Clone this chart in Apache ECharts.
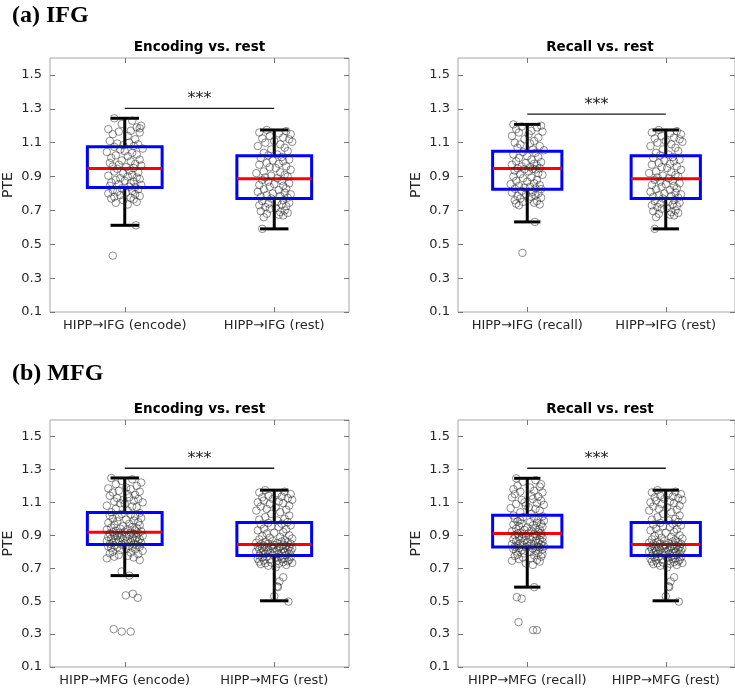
<!DOCTYPE html>
<html><head><meta charset="utf-8">
<script src="https://cdn.jsdelivr.net/npm/echarts@6/dist/echarts.min.js"></script>
<style>html,body{margin:0;padding:0;background:#fff}#c{width:735px;height:692px}</style>
</head><body><div id="c"></div>
<script>
// ---- data ----
const yMin = 0.1, yMax = 1.6, yStep = 0.2;
const sectionTitles = ['(a) IFG', '(b) MFG'];
const panelTitles = ['Encoding vs. rest', 'Recall vs. rest', 'Encoding vs. rest', 'Recall vs. rest'];
const catsIfgEnc = ['HIPP\u2192IFG (encode)', 'HIPP\u2192IFG (rest)'];
const catsIfgRec = ['HIPP\u2192IFG (recall)', 'HIPP\u2192IFG (rest)'];
const catsMfgEnc = ['HIPP\u2192MFG (encode)', 'HIPP\u2192MFG (rest)'];
const catsMfgRec = ['HIPP\u2192MFG (recall)', 'HIPP\u2192MFG (rest)'];
// box stats: [lower whisker, Q1, median, Q3, upper whisker]
const statIfgEncode = [0.612, 0.835, 0.948, 1.076, 1.244];
const statIfgRecall = [0.632, 0.825, 0.948, 1.05, 1.208];
const statIfgRest   = [0.591, 0.77, 0.887, 1.023, 1.175];
const statMfgEncode = [0.655, 0.844, 0.919, 1.038, 1.248];
const statMfgRecall = [0.585, 0.828, 0.911, 1.021, 1.246];
const statMfgRest   = [0.502, 0.777, 0.844, 0.977, 1.174];
// significance bar heights
const sigLevels = [1.303, 1.268, 1.307, 1.307];
const sigLabel = '***';
// individual points: [horizontal jitter (category units), PTE]
const ptsIfgEncode = [
[-0.07,1.244],[0.05,1.23],[-0.02,1.21],[0.11,1.2],[0.08,1.19],[0.1,1.185],[-0.11,1.18],[0.04,1.17],[-0.04,1.165],[0.1,1.16],[-0.08,1.15],[0.02,1.14],[0.07,1.12],[-0.1,1.11],[0.03,1.1],[-0.05,1.095],[0.09,1.09],[-0.01,1.085],[0.06,1.08],[-0.07,1.075],
[0.12,1.065],[-0.03,1.06],[0.0,1.05],[-0.12,1.045],[0.05,1.04],[0.08,1.03],[-0.06,1.025],[0.02,1.02],[-0.09,1.01],[0.1,1.0],[-0.02,0.995],[0.04,0.99],[-0.1,0.98],[0.07,0.975],[-0.04,0.97],[0.11,0.965],[-0.08,0.96],[0.01,0.955],[0.06,0.95],[-0.05,0.945],
[0.03,0.935],[-0.07,0.93],[0.09,0.925],[-0.01,0.92],[0.05,0.91],[-0.11,0.905],[0.02,0.9],[0.08,0.895],[-0.03,0.89],[0.1,0.885],[-0.06,0.88],[0.0,0.875],[0.06,0.87],[-0.09,0.865],[0.04,0.86],[-0.04,0.855],[0.11,0.85],[-0.1,0.845],[0.03,0.84],[0.07,0.838],
[-0.02,0.83],[0.09,0.825],[-0.08,0.82],[0.05,0.815],[-0.05,0.81],[0.01,0.805],[-0.11,0.8],[0.07,0.795],[-0.03,0.79],[0.1,0.785],[-0.07,0.78],[0.04,0.775],[-0.09,0.77],[0.06,0.765],[-0.01,0.76],[0.08,0.75],[-0.06,0.745],[0.02,0.735],[0.075,0.612],[-0.08,0.433]
];
const ptsIfgRecall = [
[-0.1,1.208],[0.1,1.2],[-0.04,1.195],[0.07,1.19],[-0.08,1.18],[0.03,1.17],[0.11,1.165],[-0.06,1.16],[0.01,1.15],[-0.11,1.14],[0.08,1.13],[-0.02,1.12],[0.05,1.11],[-0.09,1.1],[0.02,1.095],[-0.05,1.09],[0.09,1.08],[-0.07,1.07],[0.04,1.06],[0.12,1.055],
[-0.03,1.045],[0.06,1.04],[-0.1,1.03],[0.0,1.02],[0.08,1.015],[-0.06,1.01],[0.03,1.0],[-0.08,0.99],[0.1,0.985],[-0.01,0.98],[0.05,0.975],[-0.11,0.97],[0.07,0.965],[-0.04,0.96],[0.02,0.955],[0.09,0.95],[-0.07,0.948],[0.04,0.945],[-0.02,0.943],[0.06,0.942],
[-0.09,0.935],[0.01,0.93],[0.08,0.92],[-0.05,0.915],[0.11,0.91],[-0.1,0.9],[0.03,0.895],[-0.03,0.89],[0.07,0.88],[-0.08,0.875],[0.0,0.87],[0.05,0.86],[-0.12,0.855],[0.09,0.85],[-0.06,0.845],[0.02,0.84],[-0.02,0.835],[0.06,0.83],[-0.09,0.828],[0.1,0.826],
[-0.04,0.815],[0.04,0.81],[-0.11,0.805],[0.08,0.8],[-0.01,0.795],[0.06,0.79],[-0.07,0.785],[0.03,0.78],[0.1,0.775],[-0.05,0.77],[0.01,0.765],[-0.09,0.76],[0.07,0.755],[-0.03,0.75],[0.05,0.745],[-0.08,0.74],[0.09,0.735],[-0.06,0.73],[0.055,0.632],[-0.035,0.449]
];
const ptsIfgRest = [
[-0.05,1.175],[0.08,1.168],[-0.1,1.16],[0.03,1.155],[0.11,1.15],[-0.03,1.14],[0.06,1.13],[-0.08,1.125],[0.1,1.12],[0.0,1.11],[0.12,1.105],[-0.06,1.1],[0.04,1.09],[-0.11,1.08],[0.07,1.07],[-0.02,1.06],[0.09,1.05],[-0.07,1.04],[0.02,1.03],[-0.04,1.025],
[0.05,1.015],[-0.09,1.01],[0.1,1.0],[-0.01,0.995],[0.06,0.99],[-0.05,0.98],[0.03,0.975],[-0.1,0.97],[0.08,0.96],[-0.03,0.955],[0.01,0.95],[0.11,0.94],[-0.07,0.93],[0.04,0.925],[-0.12,0.92],[0.07,0.91],[-0.02,0.905],[0.09,0.9],[-0.06,0.895],[0.02,0.89],
[-0.08,0.88],[0.05,0.875],[-0.04,0.87],[0.1,0.86],[0.0,0.855],[-0.1,0.85],[0.06,0.845],[-0.03,0.84],[0.08,0.83],[-0.07,0.825],[0.03,0.82],[-0.11,0.81],[0.07,0.805],[-0.01,0.8],[0.11,0.795],[-0.05,0.79],[0.04,0.785],[-0.09,0.78],[0.09,0.775],[-0.02,0.77],
[0.06,0.76],[-0.08,0.755],[0.02,0.75],[0.1,0.745],[-0.04,0.74],[0.05,0.735],[-0.1,0.73],[0.08,0.725],[-0.06,0.72],[0.01,0.715],[-0.03,0.71],[0.07,0.7],[-0.09,0.695],[0.04,0.69],[0.09,0.685],[-0.05,0.68],[0.03,0.675],[0.06,0.67],[-0.07,0.66],[-0.08,0.591]
];
const ptsMfgEncode = [
[-0.09,1.248],[0.05,1.24],[-0.02,1.23],[0.11,1.22],[-0.06,1.21],[0.08,1.2],[0.01,1.19],[-0.11,1.185],[0.04,1.18],[-0.04,1.17],[0.1,1.165],[-0.08,1.16],[0.02,1.15],[0.07,1.145],[-0.1,1.14],[0.03,1.13],[-0.05,1.125],[0.09,1.12],[-0.01,1.115],[0.06,1.11],[-0.07,1.105],[0.12,1.1],[-0.03,1.095],[0.0,1.09],[-0.12,1.08],[0.05,1.075],[0.08,1.07],[-0.06,1.06],[0.02,1.05],[-0.09,1.04],
[0.1,1.035],[-0.02,1.03],[0.04,1.025],[-0.1,1.02],[0.07,1.015],[-0.04,1.01],[0.11,1.005],[-0.08,1.0],[0.01,0.995],[0.06,0.99],[-0.05,0.985],[0.09,0.98],[-0.11,0.975],[0.03,0.97],[-0.07,0.965],[0.1,0.96],[-0.01,0.955],[0.05,0.95],[-0.09,0.947],[0.08,0.944],[-0.03,0.94],[0.02,0.937],[-0.12,0.934],[0.07,0.93],[-0.06,0.927],[0.11,0.924],[0.0,0.921],[-0.08,0.918],[0.04,0.916],[-0.04,0.915],
[0.09,0.912],[-0.1,0.91],[0.06,0.907],[-0.02,0.905],[0.03,0.902],[-0.07,0.9],[0.12,0.897],[-0.05,0.895],[0.01,0.892],[-0.11,0.89],[0.08,0.887],[-0.03,0.885],[0.05,0.882],[-0.09,0.88],[0.1,0.877],[-0.01,0.875],[0.07,0.872],[-0.06,0.87],[0.02,0.867],[-0.12,0.865],[0.09,0.862],[-0.04,0.86],[0.04,0.857],[-0.08,0.855],[0.11,0.852],[0.0,0.85],[-0.1,0.848],[0.06,0.845],[-0.02,0.843],[0.08,0.84],
[-0.07,0.838],[0.03,0.835],[-0.11,0.832],[0.1,0.83],[-0.05,0.827],[0.05,0.825],[-0.09,0.822],[0.01,0.82],[0.07,0.815],[-0.03,0.81],[0.12,0.805],[-0.08,0.8],[0.04,0.795],[-0.1,0.79],[0.09,0.785],[-0.04,0.78],[0.02,0.775],[-0.07,0.77],[0.06,0.765],[-0.12,0.76],[0.1,0.75],[-0.02,0.68],[0.03,0.655],
[0.007,0.535],[0.054,0.545],[0.087,0.52],[-0.074,0.33],[-0.02,0.315],[0.04,0.315]
];
const ptsMfgRecall = [
[-0.08,1.246],[0.06,1.235],[-0.03,1.225],[0.1,1.21],[-0.07,1.2],[0.09,1.195],[0.02,1.19],[-0.1,1.18],[0.05,1.17],[-0.05,1.165],[0.11,1.16],[-0.09,1.15],[0.03,1.14],[0.08,1.135],[-0.11,1.13],[0.04,1.12],[-0.04,1.115],[0.1,1.11],[-0.02,1.1],[0.07,1.095],[-0.08,1.09],[0.12,1.085],[-0.01,1.08],[0.01,1.07],[-0.12,1.065],[0.06,1.06],[0.09,1.05],[-0.05,1.04],[0.03,1.03],[-0.1,1.02],
[0.11,1.015],[-0.03,1.01],[0.05,1.005],[-0.09,1.0],[0.08,0.996],[-0.05,0.992],[0.12,0.988],[-0.07,0.984],[0.02,0.98],[0.07,0.976],[-0.04,0.972],[0.1,0.968],[-0.1,0.964],[0.04,0.96],[-0.06,0.956],[0.11,0.952],[0.0,0.948],[0.06,0.944],[-0.08,0.94],[0.09,0.936],[-0.02,0.932],[0.03,0.928],[-0.11,0.924],[0.08,0.92],[-0.05,0.917],[0.1,0.914],[0.01,0.912],[-0.07,0.91],[0.05,0.908],[-0.03,0.906],
[0.1,0.903],[-0.09,0.9],[0.07,0.897],[-0.01,0.894],[0.04,0.891],[-0.06,0.888],[0.11,0.885],[-0.04,0.882],[0.02,0.879],[-0.1,0.876],[0.09,0.873],[-0.02,0.87],[0.06,0.867],[-0.08,0.864],[0.11,0.861],[0.0,0.858],[0.08,0.855],[-0.05,0.852],[0.03,0.849],[-0.11,0.846],[0.1,0.843],[-0.03,0.84],[0.05,0.838],[-0.07,0.836],[0.12,0.834],[0.01,0.832],[-0.09,0.83],[0.07,0.828],[-0.01,0.827],[0.09,0.826],
[-0.06,0.823],[0.04,0.82],[-0.1,0.817],[0.11,0.814],[-0.04,0.81],[0.06,0.806],[-0.08,0.802],[0.02,0.798],[0.08,0.794],[-0.02,0.79],[0.11,0.786],[-0.07,0.782],[0.05,0.778],[-0.09,0.774],[0.1,0.77],[-0.03,0.765],[0.03,0.76],[-0.06,0.755],[0.07,0.75],[-0.11,0.745],[0.09,0.74],[-0.01,0.73],[0.04,0.72],[0.05,0.585],
[-0.075,0.524],[-0.04,0.515],[-0.063,0.373],[0.042,0.324],[0.07,0.324]
];
const ptsMfgRest = [
[-0.06,1.174],[0.07,1.165],[-0.1,1.16],[0.02,1.155],[0.11,1.15],[-0.04,1.14],[0.05,1.135],[-0.08,1.13],[0.09,1.125],[-0.01,1.12],[0.12,1.115],[-0.07,1.11],[0.03,1.105],[-0.11,1.1],[0.06,1.095],[-0.03,1.09],[0.1,1.08],[-0.09,1.075],[0.01,1.07],[-0.05,1.06],[0.08,1.055],[-0.12,1.05],[0.04,1.04],[-0.02,1.03],[0.1,1.02],[-0.06,1.01],[0.07,1.0],[-0.1,0.995],[0.02,0.99],[0.09,0.98],
[-0.04,0.975],[0.05,0.97],[-0.09,0.965],[0.11,0.96],[-0.02,0.955],[0.03,0.95],[-0.07,0.94],[0.08,0.935],[-0.11,0.93],[0.06,0.92],[0.0,0.915],[-0.05,0.91],[0.1,0.9],[-0.08,0.895],[0.04,0.89],[-0.03,0.885],[0.12,0.88],[-0.1,0.875],[0.07,0.87],[-0.01,0.865],[0.05,0.862],[-0.06,0.86],[0.09,0.857],[-0.12,0.855],[0.02,0.852],[-0.04,0.85],[0.11,0.848],[-0.09,0.846],[0.06,0.843],[0.0,0.841],
[-0.07,0.838],[0.08,0.836],[-0.02,0.834],[0.04,0.832],[-0.11,0.83],[0.1,0.828],[-0.05,0.826],[0.03,0.824],[-0.08,0.822],[0.12,0.82],[-0.01,0.818],[0.06,0.816],[-0.1,0.814],[0.09,0.812],[-0.04,0.81],[0.02,0.808],[-0.07,0.806],[0.11,0.804],[0.0,0.802],[-0.12,0.8],[0.07,0.798],[-0.03,0.796],[0.05,0.794],[-0.09,0.792],[0.1,0.79],[-0.06,0.788],[0.03,0.786],[-0.01,0.783],[0.08,0.78],[-0.1,0.777],
[0.04,0.772],[-0.05,0.77],[0.11,0.767],[-0.08,0.765],[0.01,0.762],[0.07,0.76],[-0.11,0.757],[0.05,0.755],[-0.03,0.752],[0.1,0.75],[-0.07,0.747],[0.02,0.745],[0.09,0.742],[-0.1,0.74],[0.06,0.737],[-0.02,0.735],[0.12,0.732],[-0.06,0.73],[0.03,0.727],[-0.09,0.725],[0.08,0.72],[-0.04,0.715],[0.01,0.705],
[0.06,0.645],[0.035,0.62],[0.02,0.59],[0.025,0.585],[0.0,0.53],[0.095,0.497]
];

// ---- panel composition ----
const panels = [
  {cats: catsIfgEnc, stats: [statIfgEncode, statIfgRest], pts: [ptsIfgEncode, ptsIfgRest], grid: {left: 50, top: 58, width: 299, height: 254}},
  {cats: catsIfgRec, stats: [statIfgRecall, statIfgRest], pts: [ptsIfgRecall, ptsIfgRest], grid: {left: 458, top: 58, width: 284, height: 254}},
  {cats: catsMfgEnc, stats: [statMfgEncode, statMfgRest], pts: [ptsMfgEncode, ptsMfgRest], grid: {left: 50, top: 420, width: 299, height: 247}},
  {cats: catsMfgRec, stats: [statMfgRecall, statMfgRest], pts: [ptsMfgRecall, ptsMfgRest], grid: {left: 458, top: 420, width: 284, height: 247}}
];

const FONT = 'DejaVu Sans';
const tickStyle = {color: '#777', width: 1};
const grids = [], xAxes = [], yAxes = [], series = [], graphics = [];

function renderBox(params, api) {
  const x = api.value(0);
  const pLo = api.coord([x, api.value(1)]);
  const pQ1 = api.coord([x, api.value(2)]);
  const pMd = api.coord([x, api.value(3)]);
  const pQ3 = api.coord([x, api.value(4)]);
  const pHi = api.coord([x, api.value(5)]);
  const cx = pMd[0];
  const bw = api.size([0.5, 0])[0];
  const cw = api.size([0.19, 0])[0];
  const blk = {stroke: '#000', lineWidth: 3, fill: null};
  return {type: 'group', children: [
    {type: 'line', shape: {x1: cx, y1: pHi[1], x2: cx, y2: pQ3[1]}, style: blk},
    {type: 'line', shape: {x1: cx, y1: pQ1[1], x2: cx, y2: pLo[1]}, style: blk},
    {type: 'line', shape: {x1: cx - cw / 2, y1: pHi[1], x2: cx + cw / 2, y2: pHi[1]}, style: blk},
    {type: 'line', shape: {x1: cx - cw / 2, y1: pLo[1], x2: cx + cw / 2, y2: pLo[1]}, style: blk},
    {type: 'rect', shape: {x: cx - bw / 2, y: pQ3[1], width: bw, height: pQ1[1] - pQ3[1]}, style: {stroke: '#0000ff', lineWidth: 3, fill: null}},
    {type: 'line', shape: {x1: cx - bw / 2, y1: pMd[1], x2: cx + bw / 2, y2: pMd[1]}, style: {stroke: '#ff0000', lineWidth: 3}}
  ]};
}

function renderSig(params, api) {
  const y = api.value(2);
  const a = api.coord([api.value(0), y]);
  const b = api.coord([api.value(1), y]);
  return {type: 'group', children: [
    {type: 'line', shape: {x1: a[0], y1: a[1], x2: b[0], y2: b[1]}, style: {stroke: '#1a1a1a', lineWidth: 1.3}},
    {type: 'text', style: {text: sigLabel, x: (a[0] + b[0]) / 2, y: a[1] - 1, align: 'center', verticalAlign: 'bottom', font: '16px "' + FONT + '"', fill: '#222'}}
  ]};
}

panels.forEach((p, i) => {
  grids.push(Object.assign({show: true, borderColor: '#a6a6a6', borderWidth: 1, backgroundColor: 'transparent'}, p.grid));
  // bottom category axis (labels)
  xAxes.push({type: 'category', gridIndex: i, data: p.cats, position: 'bottom',
    axisLine: {show: false, onZero: false}, axisTick: {show: true, inside: true, alignWithLabel: true, length: 5, lineStyle: tickStyle},
    axisLabel: {interval: 0, hideOverlap: false, fontFamily: FONT, fontSize: 13, color: '#262626', margin: 7}});
  // top mirrored ticks
  xAxes.push({type: 'category', gridIndex: i, data: p.cats, position: 'top',
    axisLine: {show: false, onZero: false}, axisTick: {show: true, inside: true, alignWithLabel: true, interval: 0, length: 5, lineStyle: tickStyle},
    axisLabel: {show: false}});
  // hidden numeric axis for jittered points
  xAxes.push({type: 'value', gridIndex: i, min: -0.5, max: 1.5, show: false, axisLine: {onZero: false}});
  yAxes.push({type: 'value', gridIndex: i, min: yMin, max: yMax, interval: yStep, position: 'left',
    name: 'PTE', nameLocation: 'middle', nameGap: 35, nameTextStyle: {fontFamily: FONT, fontSize: 14, color: '#262626'},
    splitLine: {show: false}, axisLine: {show: false, onZero: false},
    axisTick: {show: true, inside: true, length: 5, lineStyle: tickStyle},
    axisLabel: {fontFamily: FONT, fontSize: 13, color: '#262626', margin: 8, showMaxLabel: false,
      formatter: v => (Math.abs(v - yMax) < 1e-6 ? '' : v.toFixed(1))}});
  yAxes.push({type: 'value', gridIndex: i, min: yMin, max: yMax, interval: yStep, position: 'right',
    splitLine: {show: false}, axisLine: {show: false, onZero: false},
    axisTick: {show: true, inside: true, length: 5, lineStyle: tickStyle}, axisLabel: {show: false}});
  const xi = 3 * i + 2, yi = 2 * i;
  series.push({type: 'custom', xAxisIndex: xi, yAxisIndex: yi, z: 2, silent: true,
    renderItem: renderBox, encode: {x: 0, y: [1, 2, 3, 4, 5]},
    data: p.stats.map((s, k) => [k].concat(s))});
  p.pts.forEach((grp, k) => {
    series.push({type: 'scatter', xAxisIndex: xi, yAxisIndex: yi, z: 3, silent: true,
      symbol: 'circle', symbolSize: 7.5,
      itemStyle: {color: 'rgba(0,0,0,0)', borderColor: 'rgba(40,40,40,0.65)', borderWidth: 1},
      data: grp.map(q => [k + q[0], q[1]])});
  });
  series.push({type: 'custom', xAxisIndex: xi, yAxisIndex: yi, z: 4, silent: true,
    renderItem: renderSig, encode: {x: [0, 1], y: 2}, data: [[0, 1, sigLevels[i]]]});
  graphics.push({type: 'text', x: p.grid.left + p.grid.width / 2, y: p.grid.top - 11,
    style: {text: panelTitles[i], align: 'center', verticalAlign: 'middle', font: 'bold 13.5px "' + FONT + '"', fill: '#000'}});
});

graphics.push({type: 'text', x: 12, y: 16, style: {text: sectionTitles[0], align: 'left', verticalAlign: 'middle', font: 'bold 24px "Liberation Serif"', fill: '#000'}});
graphics.push({type: 'text', x: 12, y: 374, style: {text: sectionTitles[1], align: 'left', verticalAlign: 'middle', font: 'bold 24px "Liberation Serif"', fill: '#000'}});

const chart = echarts.init(document.getElementById('c'), null, {renderer: 'canvas'});
chart.setOption({
  animation: false,
  backgroundColor: '#fff',
  grid: grids, xAxis: xAxes, yAxis: yAxes, series: series, graphic: graphics
});
</script>
</body></html>
